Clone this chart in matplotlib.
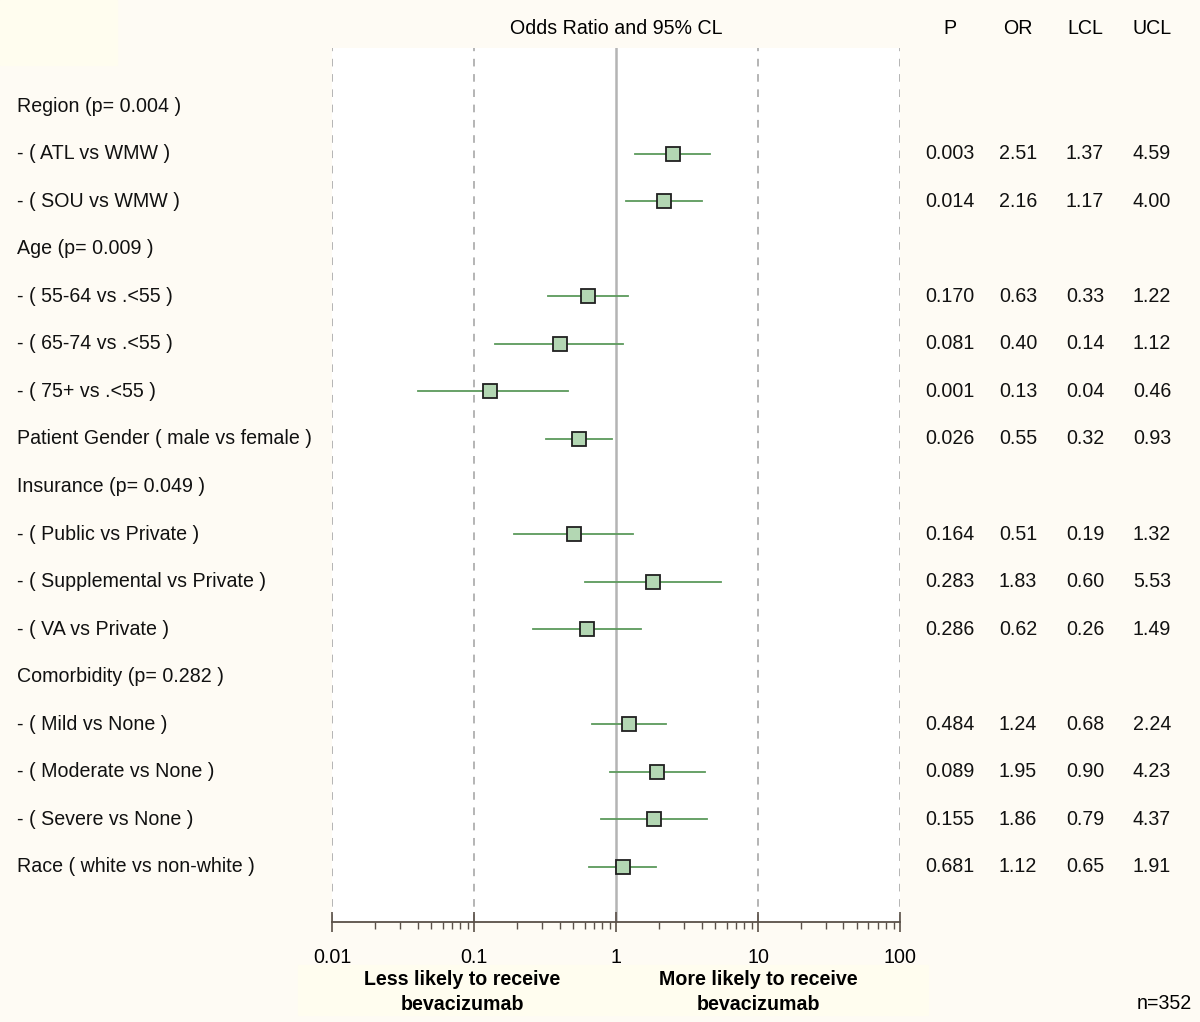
import matplotlib.pyplot as plt
import matplotlib.transforms as mtransforms
from matplotlib.patches import Rectangle
from matplotlib.ticker import LogLocator, NullFormatter, FixedLocator, FixedFormatter

plt.rcParams['font.family'] = ['Liberation Sans', 'DejaVu Sans']

labels = ["Region (p= 0.004 )", "- ( ATL vs WMW )", "- ( SOU vs WMW )",
          "Age (p= 0.009 )", "- ( 55-64 vs .<55 )", "- ( 65-74 vs .<55 )",
          "- ( 75+ vs .<55 )", "Patient Gender ( male vs female )",
          "Insurance (p= 0.049 )", "- ( Public vs Private )",
          "- ( Supplemental vs Private )", "- ( VA vs Private )",
          "Comorbidity (p= 0.282 )", "- ( Mild vs None )",
          "- ( Moderate vs None )", "- ( Severe vs None )",
          "Race ( white vs non-white )"]
p_vals = [None, "0.003", "0.014", None, "0.170", "0.081", "0.001", "0.026", None,
          "0.164", "0.283", "0.286", None, "0.484", "0.089", "0.155", "0.681"]
ors = [None, 2.51, 2.16, None, 0.63, 0.40, 0.13, 0.55, None,
       0.51, 1.83, 0.62, None, 1.24, 1.95, 1.86, 1.12]
lcls = [None, 1.37, 1.17, None, 0.33, 0.14, 0.04, 0.32, None,
        0.19, 0.60, 0.26, None, 0.68, 0.90, 0.79, 0.65]
ucls = [None, 4.59, 4.00, None, 1.22, 1.12, 0.46, 0.93, None,
        1.32, 5.53, 1.49, None, 2.24, 4.23, 4.37, 1.91]
xticks = [0.01, 0.1, 1, 10, 100]
xtick_labels = ["0.01", "0.1", "1", "10", "100"]

bg = '#fefbf4'
fs = 14.1
fig = plt.figure(figsize=(12, 10.22), dpi=100, facecolor=bg)
ax = fig.add_axes([0.2767, 0.0978, 0.4733, 0.8552])
ax.set_facecolor('white')

# pale boxes behind top-left corner and bottom captions
fig.patches.append(Rectangle((0, 1 - 65 / 1022), 117 / 1200, 65 / 1022,
                             transform=fig.transFigure, color='#fffdef', zorder=0))
fig.patches.append(Rectangle((298 / 1200, 1 - 1015 / 1022), 630 / 1200, 50 / 1022,
                             transform=fig.transFigure, color='#fffdef', zorder=0))

ax.set_xscale('log')
ax.set_xlim(0.01, 100)
ax.set_ylim(17.16, -1.22)

for xv in [0.01, 0.1, 10, 100]:
    ax.axvline(xv, color='#a0a0a0', lw=1.1, ls=(0, (5, 5)), zorder=1)
ax.axvline(1, color='#b4b4b4', lw=1.8, zorder=1)

for i, (o, lo, hi) in enumerate(zip(ors, lcls, ucls)):
    if o is None:
        continue
    ax.plot([lo, hi], [i, i], color='#5c9a5c', lw=1.3, zorder=2)
    ax.plot(o, i, marker='s', ms=10, mfc='#b3d7b3', mec='#202020', mew=1.3, zorder=3)

for s in ['top', 'left', 'right']:
    ax.spines[s].set_visible(False)
ax.spines['bottom'].set_color('#5a5048')
ax.spines['bottom'].set_linewidth(1.3)
ax.set_yticks([])
ax.xaxis.set_major_locator(FixedLocator(xticks))
ax.xaxis.set_major_formatter(FixedFormatter(xtick_labels))
ax.xaxis.set_minor_locator(LogLocator(base=10, subs=range(2, 10)))
ax.xaxis.set_minor_formatter(NullFormatter())
ax.tick_params(axis='x', which='major', direction='inout', length=14, width=1.2,
               color='#5a5048', labelsize=fs, pad=12)
ax.tick_params(axis='x', which='minor', direction='out', length=5, width=1.0,
               color='#5a5048')

trans = mtransforms.blended_transform_factory(fig.transFigure, ax.transData)
for i, lab in enumerate(labels):
    ax.text(17 / 1200, i, lab, transform=trans, ha='left', va='center',
            fontsize=fs, color='#111111', clip_on=False)
    if ors[i] is None:
        continue
    cols = [p_vals[i], f"{ors[i]:.2f}", f"{lcls[i]:.2f}", f"{ucls[i]:.2f}"]
    for cx, val in zip([950, 1018, 1085, 1152], cols):
        ax.text(cx / 1200, i, val, transform=trans, ha='center', va='center',
                fontsize=fs, color='#111111', clip_on=False)

for cx, h in zip([950, 1018, 1085, 1152], ["P", "OR", "LCL", "UCL"]):
    fig.text(cx / 1200, 1 - 28 / 1022, h, ha='center', va='center', fontsize=fs)
fig.text(616 / 1200, 1 - 28 / 1022, "Odds Ratio and 95% CL", ha='center', va='center',
         fontsize=fs)

fig.text(462 / 1200, 1 - 992 / 1022, "Less likely to receive\nbevacizumab", ha='center',
         va='center', fontsize=fs, fontweight='bold', linespacing=1.45)
fig.text(758 / 1200, 1 - 992 / 1022, "More likely to receive\nbevacizumab", ha='center',
         va='center', fontsize=fs, fontweight='bold', linespacing=1.45)
fig.text(1192 / 1200, 1 - 1003 / 1022, "n=352", ha='right', va='center', fontsize=fs)

fig.savefig('out.png', dpi=100, facecolor=bg)
